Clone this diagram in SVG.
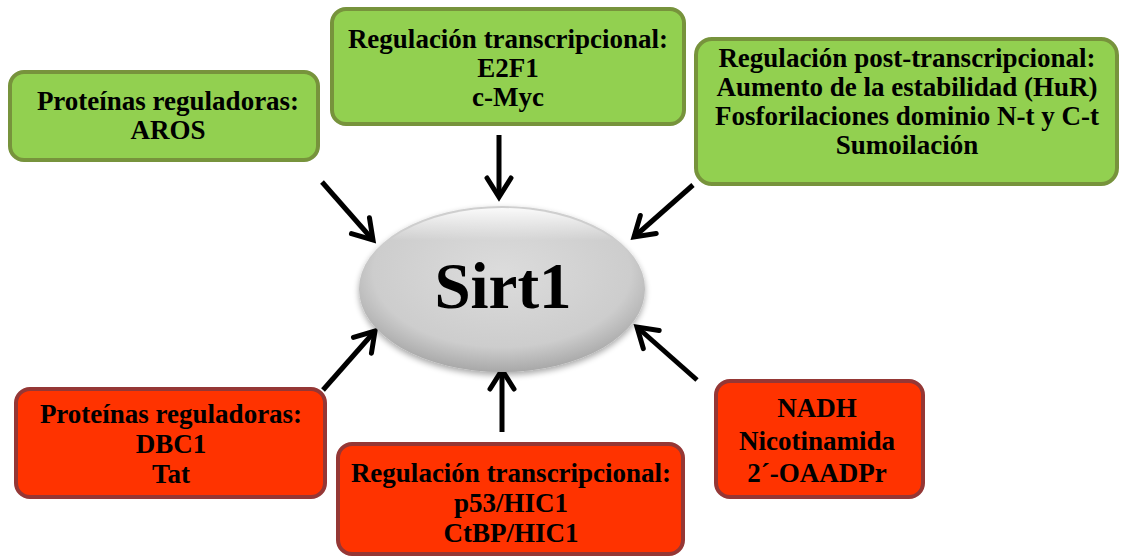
<svg xmlns="http://www.w3.org/2000/svg" width="1121" height="558" viewBox="0 0 1121 558">
<defs>
<style>
.t{font-family:'Liberation Serif','Times New Roman',serif;font-weight:bold;font-size:27px;fill:#000;text-anchor:middle}
.s{font-family:'Liberation Serif','Times New Roman',serif;font-weight:bold;font-size:65px;fill:#000;text-anchor:middle}
.g{fill:#92d050;stroke:#77933c;stroke-width:4}
.r{fill:#ff3300;stroke:#953735;stroke-width:4}
.c{fill:none;stroke:#000;stroke-width:5;marker-end:url(#ah)}
</style>
<marker id="ah" markerUnits="userSpaceOnUse" markerWidth="40" markerHeight="40" viewBox="-25 -20 30 40" refX="0" refY="0" orient="auto">
<path d="M-19,-12 L0,0 L-19,12" fill="none" stroke="#000" stroke-width="5" stroke-linecap="round" stroke-linejoin="miter"/>
</marker>
<radialGradient id="eg" cx="0.5" cy="0.4" r="0.6">
<stop offset="0" stop-color="#dcdcdc"/>
<stop offset="0.75" stop-color="#cdcdcd"/>
<stop offset="1" stop-color="#a8a8a8"/>
</radialGradient>
<linearGradient id="hl" x1="0" y1="0" x2="0" y2="1">
<stop offset="0" stop-color="#ffffff" stop-opacity="0.9"/>
<stop offset="0.2" stop-color="#ffffff" stop-opacity="0"/>
</linearGradient>
<filter id="sh" x="-20%" y="-20%" width="140%" height="140%">
<feGaussianBlur in="SourceAlpha" stdDeviation="3"/>
<feOffset dx="0" dy="3" result="b"/>
<feComponentTransfer><feFuncA type="linear" slope="0.35"/></feComponentTransfer>
<feMerge><feMergeNode/><feMergeNode in="SourceGraphic"/></feMerge>
</filter>
</defs>
<rect width="1121" height="558" fill="#fff"/>
<g id="connectors">
<line class="c" x1="322" y1="182" x2="373" y2="240"/>
<line class="c" x1="499" y1="135" x2="499" y2="197"/>
<line class="c" x1="693" y1="185" x2="634" y2="237"/>
<line class="c" x1="323" y1="390" x2="375" y2="331"/>
<line class="c" x1="502" y1="432" x2="502" y2="370"/>
<line class="c" x1="697" y1="380" x2="637" y2="327"/>
</g>
<g id="sirt1">
<ellipse cx="502" cy="289" rx="143" ry="83" fill="url(#eg)" filter="url(#sh)"/>
<ellipse cx="502" cy="289" rx="141" ry="81" fill="url(#hl)"/>
<text class="s" x="503" y="308">Sirt1</text>
</g>
<g id="aros">
<rect class="g" x="10" y="72" width="308" height="88" rx="14"/>
<text class="t" x="168" y="110">Proteínas reguladoras:</text>
<text class="t" x="168" y="139">AROS</text>
</g>
<g id="transc-pos">
<rect class="g" x="332" y="9" width="352" height="115" rx="14"/>
<text class="t" x="508" y="48">Regulación transcripcional:</text>
<text class="t" x="508" y="77">E2F1</text>
<text class="t" x="508" y="106">c-Myc</text>
</g>
<g id="post-transc">
<rect class="g" x="696" y="39" width="421" height="145" rx="16"/>
<text class="t" x="907" y="67">Regulación post-transcripcional:</text>
<text class="t" x="907" y="96">Aumento de la estabilidad (HuR)</text>
<text class="t" x="907" y="125">Fosforilaciones dominio N-t y C-t</text>
<text class="t" x="907" y="154">Sumoilación</text>
</g>
<g id="dbc1">
<rect class="r" x="16" y="389" width="309" height="108" rx="14"/>
<text class="t" x="171" y="423">Proteínas reguladoras:</text>
<text class="t" x="171" y="453">DBC1</text>
<text class="t" x="171" y="483">Tat</text>
</g>
<g id="transc-neg">
<rect class="r" x="338" y="444" width="345" height="110" rx="14"/>
<text class="t" x="511" y="482">Regulación transcripcional:</text>
<text class="t" x="511" y="512">p53/HIC1</text>
<text class="t" x="511" y="542">CtBP/HIC1</text>
</g>
<g id="metab">
<rect class="r" x="716" y="381" width="207" height="116" rx="14"/>
<text class="t" x="817" y="417">NADH</text>
<text class="t" x="817" y="450">Nicotinamida</text>
<text class="t" x="817" y="482">2´-OAADPr</text>
</g>
</svg>
